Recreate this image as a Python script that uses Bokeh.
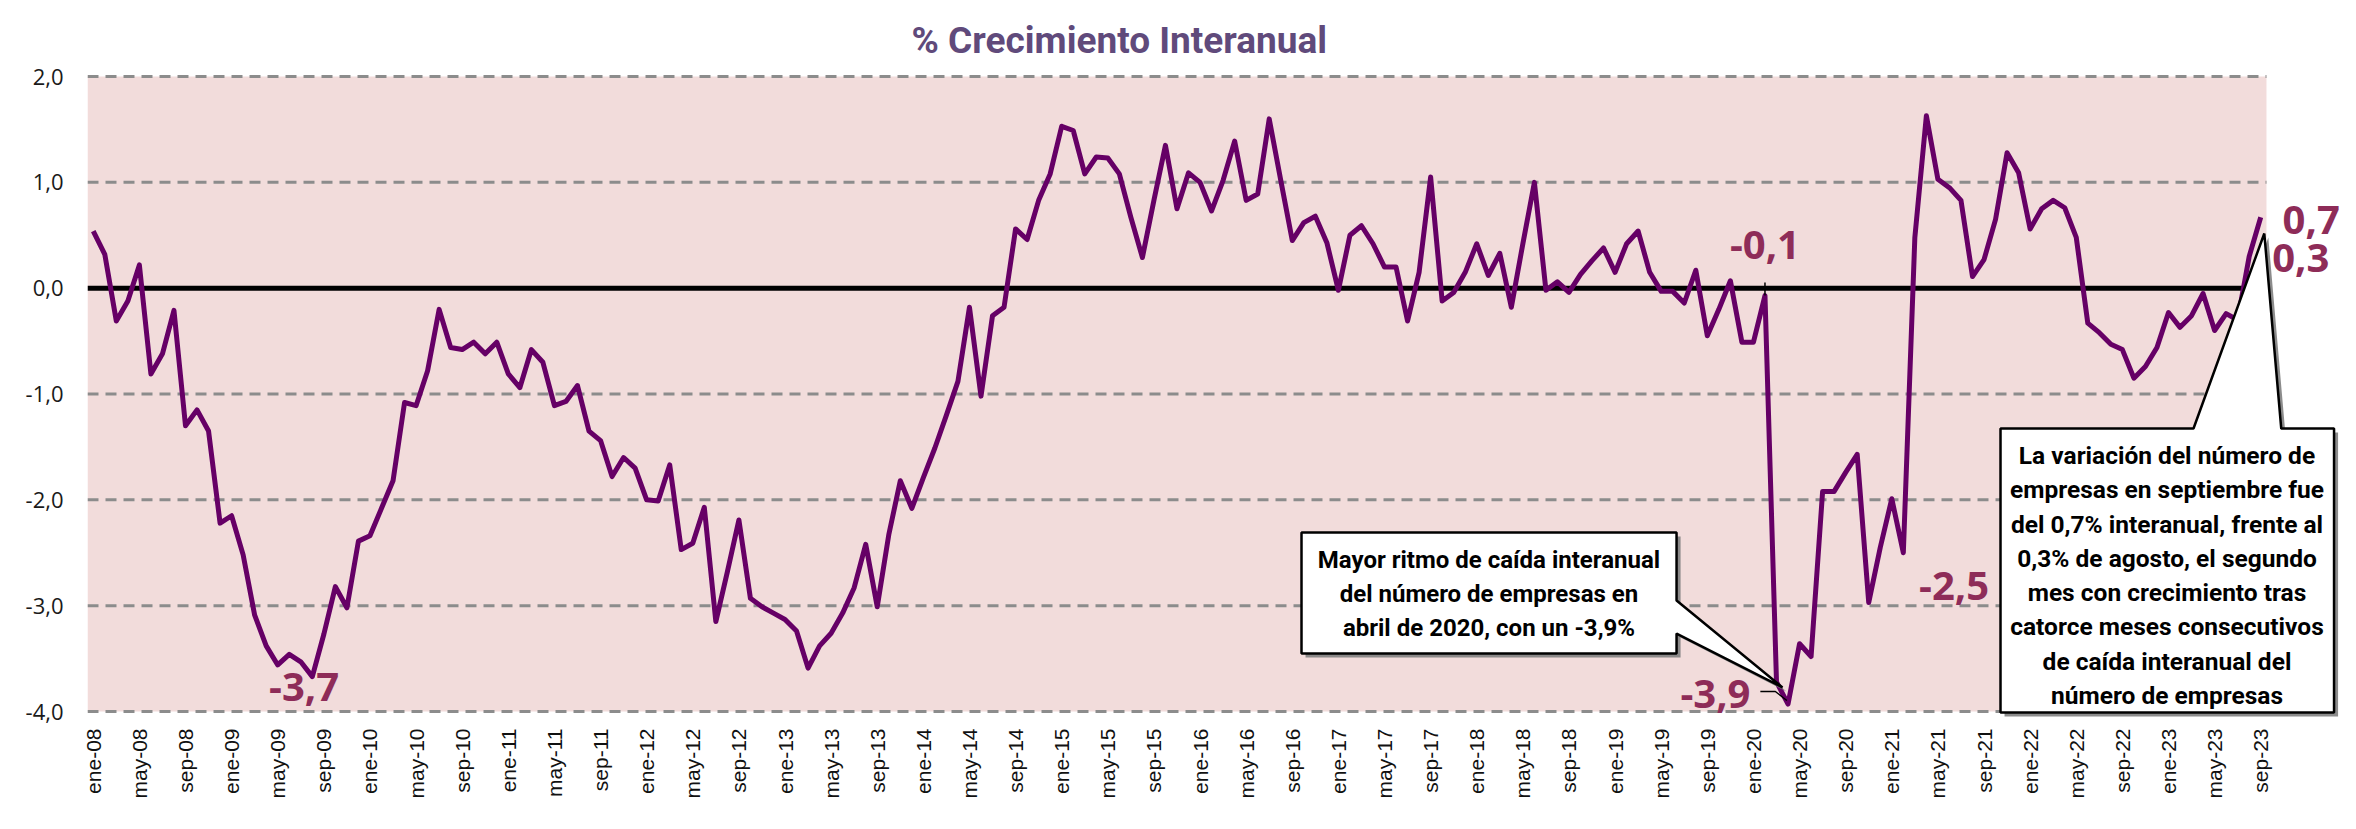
import math
from bokeh.plotting import figure
from bokeh.models import FixedTicker, Range1d
from bokeh.core.properties import value
from bokeh.embed import file_html
from bokeh.resources import INLINE

# ---------------- data ----------------
meses = ["ene", "feb", "mar", "abr", "may", "jun", "jul", "ago", "sep", "oct", "nov", "dic"]
years = list(range(8, 24))
categories = [f"{m}-{y:02d}" for y in years for m in meses][:189]   # ene-08 ... sep-23

growth = [
    0.54, 0.32, -0.31, -0.12, 0.22, -0.81, -0.62, -0.21, -1.30, -1.15, -1.35, -2.22,   # 2008
    -2.15, -2.52, -3.09, -3.38, -3.56, -3.46, -3.53, -3.67, -3.27, -2.82, -3.02, -2.39,  # 2009
    -2.34, -2.08, -1.82, -1.08, -1.11, -0.78, -0.20, -0.56, -0.58, -0.51, -0.62, -0.51,  # 2010
    -0.81, -0.94, -0.58, -0.70, -1.11, -1.07, -0.92, -1.35, -1.44, -1.78, -1.60, -1.70,  # 2011
    -2.00, -2.01, -1.67, -2.47, -2.41, -2.07, -3.15, -2.68, -2.19, -2.93, -3.01, -3.07,  # 2012
    -3.13, -3.24, -3.59, -3.38, -3.26, -3.07, -2.83, -2.42, -3.01, -2.33, -1.82, -2.08,  # 2013
    -1.79, -1.51, -1.20, -0.88, -0.18, -1.02, -0.26, -0.18, 0.56, 0.46, 0.83, 1.08,      # 2014
    1.53, 1.49, 1.08, 1.24, 1.23, 1.08, 0.67, 0.29, 0.83, 1.35, 0.75, 1.09,              # 2015
    1.00, 0.73, 1.02, 1.39, 0.83, 0.89, 1.60, 1.02, 0.45, 0.62, 0.68, 0.43,              # 2016
    -0.02, 0.50, 0.59, 0.42, 0.20, 0.20, -0.31, 0.15, 1.05, -0.12, -0.04, 0.15,          # 2017
    0.42, 0.12, 0.33, -0.18, 0.42, 1.00, -0.02, 0.06, -0.04, 0.13, 0.26, 0.38,           # 2018
    0.15, 0.42, 0.54, 0.15, -0.03, -0.03, -0.14, 0.17, -0.45, -0.20, 0.07, -0.51,        # 2019
    -0.51, -0.07, -3.72, -3.93, -3.36, -3.48, -1.92, -1.92, -1.74, -1.57, -2.97, -2.45,  # 2020
    -1.99, -2.50, 0.48, 1.63, 1.03, 0.95, 0.83, 0.11, 0.27, 0.65, 1.28, 1.09,            # 2021
    0.56, 0.75, 0.83, 0.76, 0.48, -0.33, -0.42, -0.53, -0.58, -0.85, -0.74, -0.56,       # 2022
    -0.23, -0.37, -0.26, -0.05, -0.40, -0.24, -0.30, 0.30, 0.67,                          # 2023
]
idx = list(range(len(growth)))
tick_idx = list(range(0, len(growth), 4))
y_ticks = [-4.0, -3.0, -2.0, -1.0, 0.0, 1.0, 2.0]
grid_levels = [-4.0, -3.0, -2.0, -1.0, 1.0, 2.0]

value_labels = ["-3,7", "-3,9", "-0,1", "-2,5", "0,7", "0,3"]

title_text = "% Crecimiento Interanual"
callout1 = ["Mayor ritmo de caída interanual",
            "del número de empresas en",
            "abril de 2020, con un -3,9%"]
callout2 = ["La variación del número de",
            "empresas en septiembre fue",
            "del 0,7% interanual, frente al",
            "0,3% de agosto, el segundo",
            "mes con crecimiento tras",
            "catorce meses consecutivos",
            "de caída interanual del",
            "número de empresas"]

# ---------------- figure ----------------
x0, x1 = -0.5, len(growth) - 0.5
p = figure(frame_width=2253, frame_height=705,
           min_border_left=87, min_border_right=16, min_border_top=13, min_border_bottom=111,
           x_range=Range1d(-0.5, 194.92), y_range=Range1d(-4.066, 2.5957),
           output_backend="svg", toolbar_location=None)
p.outline_line_color = None
p.grid.visible = False
p.background_fill_color = "white"
p.border_fill_color = "white"

# plot area background
p.quad(left=x0, right=x1, bottom=-4.0, top=2.0, fill_color="#F2DCDB", line_color=None)
# dashed grid
p.segment(x0=[x0] * len(grid_levels), x1=[x1] * len(grid_levels), y0=grid_levels, y1=grid_levels,
          line_color="#8C8C8C", line_width=3, line_dash="11 7")
# zero line
p.segment(x0=[x0], x1=[x1], y0=[0.0], y1=[0.0], line_color="black", line_width=5)

# series
p.line(idx, growth, line_color="#660066", line_width=5, line_join="round")

# ---------- callouts ----------
dx, dy = 0.35, -0.038
c1x = [104.80, 137.33, 137.33, 146.52, 137.33, 137.33, 104.80]
c1y = [-2.308, -2.308, -2.951, -3.773, -3.263, -3.452, -3.452]
c2x = [165.43, 182.17, 188.31, 189.78, 194.36, 194.36, 165.43]
c2y = [-1.326, -1.326, 0.517, -1.326, -1.326, -4.009, -4.009]
for cx, cy in ((c1x, c1y), (c2x, c2y)):
    p.patch([v + dx for v in cx], [v + dy for v in cy], fill_color="#7F7F7F", line_color=None, fill_alpha=0.9)
    p.patch(cx, cy, fill_color="white", line_color="black", line_width=2.5)

cond = value("Roboto")
# callout 1 text (anchors are the visual centres of the lines)
c1_mid = [-2.566, -2.887, -3.208]
p.text(x=[121.06] * 3, y=c1_mid, text=callout1, text_font=cond, text_font_style="bold",
       text_font_size="24px", text_align="center", text_baseline="alphabetic", text_color="black")
# callout 2 text
c2_mid = [(287.7 - (455 + 34.3 * k)) / 105.83 for k in range(8)]
p.text(x=[179.87] * 8, y=c2_mid, text=callout2, text_font=cond, text_font_style="bold",
       text_font_size="24.5px", text_align="center", text_baseline="alphabetic", text_color="black")

# leader lines
p.segment(x0=[145.0], x1=[145.0], y0=[growth[145] + 0.125], y1=[growth[145]], line_color="black", line_width=1.5)
p.line([144.6, 145.9, 146.9], [-3.811, -3.811, -3.896], line_color="black", line_width=1.5)

# value labels
lab_font = value("Open Sans")
p.text(x=[18.28, 140.7, 145.0, 161.4], y=[-3.773, -3.830, 0.404, -2.811], text=value_labels[:4],
       text_font=lab_font, text_font_style="bold", text_font_size="40px", text_align="center",
       text_baseline="alphabetic", text_color="#8E2C58")
p.text(x=[189.9, 189.0], y=[0.649, 0.281], text=value_labels[4:],
       text_font=lab_font, text_font_style="bold", text_font_size="40px", text_align="left",
       text_baseline="alphabetic", text_color="#8E2C58")

# title
p.text(x=[89.0], y=[2.341], text=[title_text], text_font=cond, text_font_style="bold",
       text_font_size="37px", text_align="center", text_baseline="alphabetic", text_color="#604A7B")

# ---------- axes ----------
p.xaxis.ticker = FixedTicker(ticks=tick_idx)
p.xaxis.major_label_overrides = {i: categories[i] for i in tick_idx}
p.xaxis.major_label_orientation = math.pi / 2
p.xaxis.major_label_text_font = "Liberation Sans"
p.xaxis.major_label_text_font_size = "21px"
p.xaxis.major_label_text_color = "#111111"
p.xaxis.major_label_standoff = 10

p.yaxis.ticker = FixedTicker(ticks=y_ticks)
p.yaxis.major_label_overrides = {v: f"{v:.1f}".replace(".", ",") for v in y_ticks}
p.yaxis.major_label_text_font = "Open Sans"
p.yaxis.major_label_text_font_size = "22px"
p.yaxis.major_label_text_color = "#1A1A1A"
p.yaxis.major_label_standoff = 24

for ax in (p.xaxis, p.yaxis):
    ax.axis_line_color = None
    ax.major_tick_line_color = None
    ax.minor_tick_line_color = None
    ax.major_tick_out = 0
    ax.major_tick_in = 0

open("out.html", "w").write(file_html(p, INLINE))
